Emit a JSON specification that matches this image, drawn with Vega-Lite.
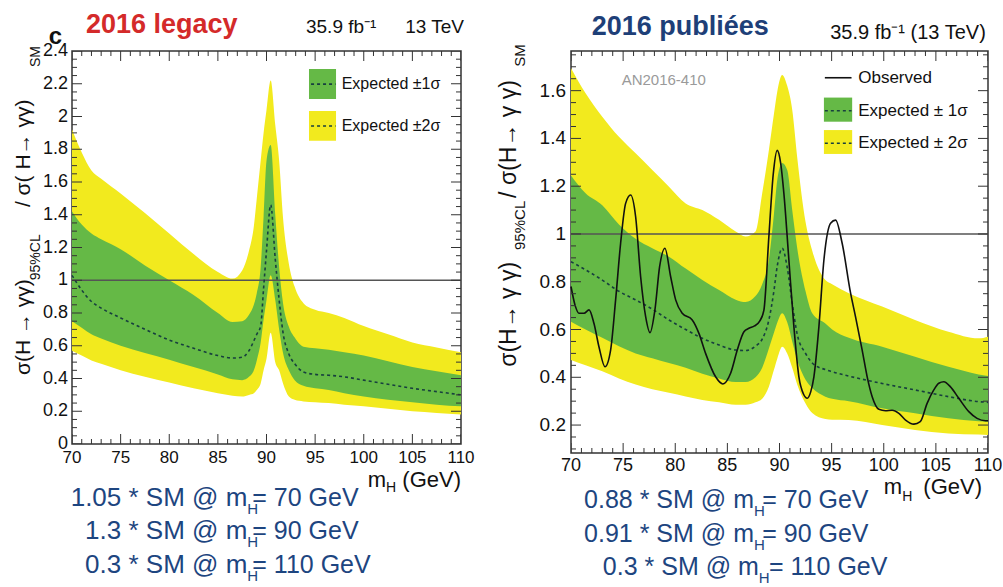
{
"$schema": "https://vega.github.io/schema/vega-lite/v6.json",
"background": "white",
"padding": {"left": 12, "top": 10, "right": 5, "bottom": 2},
"config": {"font": "Liberation Sans", "view": {"stroke": "#333", "strokeWidth": 1.5}},
"datasets": {
"legacy": [
{"m":70,"y2lo":0.57,"y1lo":0.75,"med":1.03,"y1hi":1.42,"y2hi":1.92},
{"m":71,"y2lo":0.54,"y1lo":0.71,"med":0.94,"y1hi":1.34,"y2hi":1.78},
{"m":72,"y2lo":0.51,"y1lo":0.67,"med":0.87,"y1hi":1.285,"y2hi":1.67},
{"m":73,"y2lo":0.49,"y1lo":0.645,"med":0.83,"y1hi":1.25,"y2hi":1.62},
{"m":75,"y2lo":0.45,"y1lo":0.60,"med":0.77,"y1hi":1.19,"y2hi":1.53},
{"m":77.5,"y2lo":0.41,"y1lo":0.555,"med":0.70,"y1hi":1.09,"y2hi":1.41},
{"m":80,"y2lo":0.375,"y1lo":0.515,"med":0.635,"y1hi":1.0,"y2hi":1.285},
{"m":82.5,"y2lo":0.34,"y1lo":0.47,"med":0.585,"y1hi":0.91,"y2hi":1.16},
{"m":85,"y2lo":0.31,"y1lo":0.425,"med":0.54,"y1hi":0.80,"y2hi":1.05},
{"m":86.5,"y2lo":0.295,"y1lo":0.395,"med":0.525,"y1hi":0.745,"y2hi":1.01},
{"m":87.5,"y2lo":0.29,"y1lo":0.39,"med":0.53,"y1hi":0.75,"y2hi":1.06},
{"m":88.2,"y2lo":0.30,"y1lo":0.41,"med":0.57,"y1hi":0.79,"y2hi":1.18},
{"m":88.7,"y2lo":0.31,"y1lo":0.45,"med":0.63,"y1hi":0.85,"y2hi":1.33},
{"m":89.0,"y2lo":0.33,"y1lo":0.51,"med":0.67,"y1hi":0.92,"y2hi":1.50},
{"m":89.4,"y2lo":0.37,"y1lo":0.62,"med":0.72,"y1hi":1.08,"y2hi":1.73},
{"m":89.7,"y2lo":0.45,"y1lo":0.76,"med":0.95,"y1hi":1.39,"y2hi":1.90},
{"m":90.0,"y2lo":0.52,"y1lo":0.88,"med":1.18,"y1hi":1.73,"y2hi":2.04},
{"m":90.43,"y2lo":0.68,"y1lo":1.03,"med":1.46,"y1hi":1.826,"y2hi":2.22},
{"m":90.9,"y2lo":0.50,"y1lo":0.88,"med":1.13,"y1hi":1.40,"y2hi":1.95},
{"m":91.3,"y2lo":0.45,"y1lo":0.70,"med":0.88,"y1hi":1.08,"y2hi":1.73},
{"m":91.7,"y2lo":0.37,"y1lo":0.555,"med":0.68,"y1hi":0.86,"y2hi":1.38},
{"m":92.3,"y2lo":0.29,"y1lo":0.45,"med":0.55,"y1hi":0.716,"y2hi":1.10},
{"m":92.9,"y2lo":0.27,"y1lo":0.39,"med":0.49,"y1hi":0.65,"y2hi":0.96},
{"m":93.8,"y2lo":0.26,"y1lo":0.355,"med":0.44,"y1hi":0.594,"y2hi":0.86},
{"m":95,"y2lo":0.255,"y1lo":0.34,"med":0.425,"y1hi":0.585,"y2hi":0.82},
{"m":96.4,"y2lo":0.25,"y1lo":0.33,"med":0.42,"y1hi":0.575,"y2hi":0.80},
{"m":98,"y2lo":0.24,"y1lo":0.31,"med":0.41,"y1hi":0.56,"y2hi":0.77},
{"m":100,"y2lo":0.23,"y1lo":0.29,"med":0.39,"y1hi":0.54,"y2hi":0.72},
{"m":102.5,"y2lo":0.215,"y1lo":0.27,"med":0.365,"y1hi":0.505,"y2hi":0.67},
{"m":105,"y2lo":0.20,"y1lo":0.255,"med":0.34,"y1hi":0.47,"y2hi":0.62},
{"m":107.5,"y2lo":0.19,"y1lo":0.24,"med":0.32,"y1hi":0.445,"y2hi":0.59},
{"m":110,"y2lo":0.18,"y1lo":0.23,"med":0.30,"y1hi":0.42,"y2hi":0.56}
],
"pub": [
{"m":70,"y2lo":0.472,"y1lo":0.633,"med":0.884,"y1hi":1.245,"y2hi":1.694},
{"m":71.4,"y2lo":0.45,"y1lo":0.60,"med":0.85,"y1hi":1.17,"y2hi":1.589},
{"m":73,"y2lo":0.425,"y1lo":0.565,"med":0.807,"y1hi":1.12,"y2hi":1.491},
{"m":74.6,"y2lo":0.395,"y1lo":0.53,"med":0.76,"y1hi":1.04,"y2hi":1.407},
{"m":76.2,"y2lo":0.37,"y1lo":0.50,"med":0.724,"y1hi":0.98,"y2hi":1.338},
{"m":77.8,"y2lo":0.35,"y1lo":0.48,"med":0.685,"y1hi":0.94,"y2hi":1.268},
{"m":79.4,"y2lo":0.335,"y1lo":0.46,"med":0.64,"y1hi":0.905,"y2hi":1.198},
{"m":81,"y2lo":0.32,"y1lo":0.44,"med":0.60,"y1hi":0.855,"y2hi":1.128},
{"m":82.6,"y2lo":0.305,"y1lo":0.415,"med":0.563,"y1hi":0.807,"y2hi":1.10},
{"m":84.2,"y2lo":0.295,"y1lo":0.395,"med":0.535,"y1hi":0.765,"y2hi":1.059},
{"m":85.8,"y2lo":0.285,"y1lo":0.38,"med":0.514,"y1hi":0.725,"y2hi":1.01},
{"m":86.75,"y2lo":0.285,"y1lo":0.38,"med":0.512,"y1hi":0.715,"y2hi":0.989},
{"m":87.7,"y2lo":0.295,"y1lo":0.40,"med":0.53,"y1hi":0.74,"y2hi":1.01},
{"m":88.34,"y2lo":0.31,"y1lo":0.44,"med":0.56,"y1hi":0.79,"y2hi":1.17},
{"m":88.98,"y2lo":0.36,"y1lo":0.52,"med":0.64,"y1hi":0.891,"y2hi":1.35},
{"m":89.46,"y2lo":0.43,"y1lo":0.585,"med":0.76,"y1hi":1.08,"y2hi":1.50},
{"m":89.8,"y2lo":0.48,"y1lo":0.63,"med":0.87,"y1hi":1.23,"y2hi":1.60},
{"m":90.26,"y2lo":0.528,"y1lo":0.668,"med":0.94,"y1hi":1.297,"y2hi":1.666},
{"m":90.74,"y2lo":0.50,"y1lo":0.63,"med":0.86,"y1hi":1.268,"y2hi":1.62},
{"m":91.22,"y2lo":0.44,"y1lo":0.55,"med":0.71,"y1hi":1.10,"y2hi":1.52},
{"m":91.7,"y2lo":0.37,"y1lo":0.472,"med":0.58,"y1hi":0.94,"y2hi":1.32},
{"m":92.5,"y2lo":0.29,"y1lo":0.39,"med":0.50,"y1hi":0.76,"y2hi":1.05},
{"m":93.14,"y2lo":0.25,"y1lo":0.355,"med":0.46,"y1hi":0.668,"y2hi":0.93},
{"m":94.4,"y2lo":0.225,"y1lo":0.319,"med":0.432,"y1hi":0.625,"y2hi":0.807},
{"m":95.05,"y2lo":0.222,"y1lo":0.31,"med":0.423,"y1hi":0.60,"y2hi":0.79},
{"m":96.65,"y2lo":0.221,"y1lo":0.30,"med":0.405,"y1hi":0.565,"y2hi":0.752},
{"m":99.85,"y2lo":0.20,"y1lo":0.27,"med":0.374,"y1hi":0.528,"y2hi":0.696},
{"m":103,"y2lo":0.179,"y1lo":0.249,"med":0.347,"y1hi":0.486,"y2hi":0.64},
{"m":106.2,"y2lo":0.165,"y1lo":0.228,"med":0.319,"y1hi":0.444,"y2hi":0.591},
{"m":109.1,"y2lo":0.16,"y1lo":0.216,"med":0.298,"y1hi":0.412,"y2hi":0.563},
{"m":110,"y2lo":0.158,"y1lo":0.214,"med":0.295,"y1hi":0.405,"y2hi":0.57}
],
"obs": [
{"m":70.0,"obs":0.78},{"m":70.4,"obs":0.70},{"m":70.77,"obs":0.668},{"m":71.25,"obs":0.668},{"m":71.73,"obs":0.682},
{"m":72.2,"obs":0.626},{"m":72.68,"obs":0.528},{"m":73.26,"obs":0.444},{"m":73.8,"obs":0.514},{"m":74.28,"obs":0.724},
{"m":74.76,"obs":0.961},{"m":75.24,"obs":1.128},{"m":75.72,"obs":1.163},{"m":76.2,"obs":1.072},{"m":76.68,"obs":0.821},
{"m":77.16,"obs":0.654},{"m":77.58,"obs":0.587},{"m":78.05,"obs":0.682},{"m":78.5,"obs":0.863},{"m":79.01,"obs":0.94},
{"m":79.56,"obs":0.821},{"m":80.04,"obs":0.724},{"m":80.67,"obs":0.668},{"m":81.63,"obs":0.64},{"m":82.27,"obs":0.584},
{"m":82.91,"obs":0.50},{"m":83.87,"obs":0.402},{"m":84.57,"obs":0.372},{"m":85.31,"obs":0.417},{"m":85.95,"obs":0.514},
{"m":86.59,"obs":0.591},{"m":87.07,"obs":0.605},{"m":87.6,"obs":0.615},{"m":88.1,"obs":0.635},{"m":88.5,"obs":0.68},
{"m":88.98,"obs":0.989},{"m":89.4,"obs":1.25},{"m":89.78,"obs":1.35},{"m":90.1,"obs":1.30},{"m":90.42,"obs":1.17},
{"m":90.9,"obs":0.891},{"m":91.38,"obs":0.612},{"m":91.86,"obs":0.402},{"m":92.3,"obs":0.33},{"m":92.66,"obs":0.312},
{"m":93.0,"obs":0.34},{"m":93.3,"obs":0.402},{"m":93.78,"obs":0.612},{"m":94.26,"obs":0.891},{"m":94.9,"obs":1.045},
{"m":95.38,"obs":1.058},{"m":96.01,"obs":0.961},{"m":96.82,"obs":0.752},{"m":97.29,"obs":0.654},{"m":97.93,"obs":0.514},
{"m":98.41,"obs":0.402},{"m":98.89,"obs":0.319},{"m":99.53,"obs":0.266},{"m":100.17,"obs":0.26},{"m":100.8,"obs":0.262},
{"m":101.45,"obs":0.249},{"m":102.09,"obs":0.221},{"m":102.89,"obs":0.204},{"m":103.5,"obs":0.214},{"m":104.16,"obs":0.291},
{"m":104.8,"obs":0.347},{"m":105.28,"obs":0.375},{"m":105.76,"obs":0.381},{"m":106.4,"obs":0.36},{"m":107.2,"obs":0.312},
{"m":108.16,"obs":0.256},{"m":108.95,"obs":0.228},{"m":109.76,"obs":0.218},{"m":110,"obs":0.218}
],
"xticks": [
{"v":70,"k":1},{"v":71,"k":0},{"v":72,"k":0},{"v":73,"k":0},{"v":74,"k":0},{"v":75,"k":1},{"v":76,"k":0},{"v":77,"k":0},{"v":78,"k":0},{"v":79,"k":0},
{"v":80,"k":1},{"v":81,"k":0},{"v":82,"k":0},{"v":83,"k":0},{"v":84,"k":0},{"v":85,"k":1},{"v":86,"k":0},{"v":87,"k":0},{"v":88,"k":0},{"v":89,"k":0},
{"v":90,"k":1},{"v":91,"k":0},{"v":92,"k":0},{"v":93,"k":0},{"v":94,"k":0},{"v":95,"k":1},{"v":96,"k":0},{"v":97,"k":0},{"v":98,"k":0},{"v":99,"k":0},
{"v":100,"k":1},{"v":101,"k":0},{"v":102,"k":0},{"v":103,"k":0},{"v":104,"k":0},{"v":105,"k":1},{"v":106,"k":0},{"v":107,"k":0},{"v":108,"k":0},{"v":109,"k":0},{"v":110,"k":1}
],
"yticksL": [
{"v":0,"k":1},{"v":0.05,"k":0},{"v":0.1,"k":0},{"v":0.15,"k":0},{"v":0.2,"k":1},{"v":0.25,"k":0},{"v":0.3,"k":0},{"v":0.35,"k":0},{"v":0.4,"k":1},{"v":0.45,"k":0},
{"v":0.5,"k":0},{"v":0.55,"k":0},{"v":0.6,"k":1},{"v":0.65,"k":0},{"v":0.7,"k":0},{"v":0.75,"k":0},{"v":0.8,"k":1},{"v":0.85,"k":0},{"v":0.9,"k":0},{"v":0.95,"k":0},
{"v":1,"k":1},{"v":1.05,"k":0},{"v":1.1,"k":0},{"v":1.15,"k":0},{"v":1.2,"k":1},{"v":1.25,"k":0},{"v":1.3,"k":0},{"v":1.35,"k":0},{"v":1.4,"k":1},{"v":1.45,"k":0},
{"v":1.5,"k":0},{"v":1.55,"k":0},{"v":1.6,"k":1},{"v":1.65,"k":0},{"v":1.7,"k":0},{"v":1.75,"k":0},{"v":1.8,"k":1},{"v":1.85,"k":0},{"v":1.9,"k":0},{"v":1.95,"k":0},
{"v":2,"k":1},{"v":2.05,"k":0},{"v":2.1,"k":0},{"v":2.15,"k":0},{"v":2.2,"k":1},{"v":2.25,"k":0},{"v":2.3,"k":0},{"v":2.35,"k":0},{"v":2.4,"k":1}
],
"yticksR": [
{"v":0.1,"k":0},{"v":0.15,"k":0},{"v":0.2,"k":1},{"v":0.25,"k":0},{"v":0.3,"k":0},{"v":0.35,"k":0},{"v":0.4,"k":1},{"v":0.45,"k":0},
{"v":0.5,"k":0},{"v":0.55,"k":0},{"v":0.6,"k":1},{"v":0.65,"k":0},{"v":0.7,"k":0},{"v":0.75,"k":0},{"v":0.8,"k":1},{"v":0.85,"k":0},{"v":0.9,"k":0},{"v":0.95,"k":0},
{"v":1,"k":1},{"v":1.05,"k":0},{"v":1.1,"k":0},{"v":1.15,"k":0},{"v":1.2,"k":1},{"v":1.25,"k":0},{"v":1.3,"k":0},{"v":1.35,"k":0},{"v":1.4,"k":1},{"v":1.45,"k":0},
{"v":1.5,"k":0},{"v":1.55,"k":0},{"v":1.6,"k":1},{"v":1.65,"k":0},{"v":1.7,"k":0},{"v":1.75,"k":0}
]
},
"spacing": 110,
"bounds": "flush",
"hconcat": [
{
"width": 389, "height": 393,
"layer": [
{"data": {"name": "legacy"}, "mark": {"type": "area", "color": "#f2ea1e", "interpolate": "monotone"},
 "encoding": {
  "x": {"field": "m", "type": "quantitative", "scale": {"domain": [70, 110], "nice": false, "zero": false}, "axis": null},
  "y": {"field": "y2lo", "type": "quantitative", "scale": {"domain": [0, 2.4], "nice": false, "zero": false}, "axis": null},
  "y2": {"field": "y2hi"}}},
{"data": {"name": "legacy"}, "mark": {"type": "area", "color": "#65b946", "interpolate": "monotone"},
 "encoding": {"x": {"field": "m", "type": "quantitative", "axis": null}, "y": {"field": "y1lo", "type": "quantitative", "axis": null}, "y2": {"field": "y1hi"}}},
{"data": {"values": [{}]}, "mark": {"type": "rule", "color": "#555", "strokeWidth": 1.5},
 "encoding": {"y": {"datum": 1, "type": "quantitative", "axis": null}}},
{"data": {"name": "legacy"}, "mark": {"type": "line", "color": "#173f3f", "strokeWidth": 1.6, "strokeDash": [3, 3], "interpolate": "monotone"},
 "encoding": {"x": {"field": "m", "type": "quantitative", "axis": null}, "y": {"field": "med", "type": "quantitative", "axis": null}}},
{"data": {"name": "xticks"}, "mark": {"type": "tick", "orient": "vertical", "clip": true, "color": "#333", "thickness": 1, "opacity": 1},
 "encoding": {"x": {"field": "v", "type": "quantitative", "axis": null}, "y": {"datum": 0, "type": "quantitative", "axis": null},
  "size": {"field": "k", "type": "quantitative", "scale": {"domain": [0, 1], "range": [10, 20]}, "legend": null}}},
{"data": {"name": "xticks"}, "mark": {"type": "tick", "orient": "vertical", "clip": true, "color": "#333", "thickness": 1, "opacity": 1},
 "encoding": {"x": {"field": "v", "type": "quantitative", "axis": null}, "y": {"datum": 2.4, "type": "quantitative", "axis": null},
  "size": {"field": "k", "type": "quantitative", "scale": {"domain": [0, 1], "range": [10, 20]}, "legend": null}}},
{"data": {"name": "yticksL"}, "mark": {"type": "tick", "orient": "horizontal", "clip": true, "color": "#333", "thickness": 1, "opacity": 1},
 "encoding": {"y": {"field": "v", "type": "quantitative", "axis": null}, "x": {"datum": 70, "type": "quantitative", "axis": null},
  "size": {"field": "k", "type": "quantitative", "scale": {"domain": [0, 1], "range": [10, 20]}, "legend": null}}},
{"data": {"name": "yticksL"}, "mark": {"type": "tick", "orient": "horizontal", "clip": true, "color": "#333", "thickness": 1, "opacity": 1},
 "encoding": {"y": {"field": "v", "type": "quantitative", "axis": null}, "x": {"datum": 110, "type": "quantitative", "axis": null},
  "size": {"field": "k", "type": "quantitative", "scale": {"domain": [0, 1], "range": [10, 20]}, "legend": null}}},
{"data": {"name": "xticks"}, "transform": [{"filter": "datum.k == 1"}],
 "mark": {"type": "text", "fontSize": 17, "align": "center", "baseline": "top", "dy": 6, "color": "#111"},
 "encoding": {"x": {"field": "v", "type": "quantitative", "axis": null}, "y": {"datum": 0, "type": "quantitative", "axis": null}, "text": {"field": "v", "type": "quantitative", "format": "~g"}}},
{"data": {"name": "yticksL"}, "transform": [{"filter": "datum.k == 1"}],
 "mark": {"type": "text", "fontSize": 18, "align": "right", "baseline": "middle", "dx": -4, "color": "#111"},
 "encoding": {"y": {"field": "v", "type": "quantitative", "axis": null}, "x": {"datum": 70, "type": "quantitative", "axis": null}, "text": {"field": "v", "type": "quantitative", "format": "~g"}}},
{"data": {"values": [{}]}, "mark": {"type": "rect", "color": "#65b946"},
 "encoding": {"x": {"datum": 94.37, "type": "quantitative", "axis": null}, "x2": {"datum": 97.15}, "y": {"datum": 2.29, "type": "quantitative", "axis": null}, "y2": {"datum": 2.107}}},
{"data": {"values": [{}]}, "mark": {"type": "rect", "color": "#f2ea1e"},
 "encoding": {"x": {"datum": 94.37, "type": "quantitative", "axis": null}, "x2": {"datum": 97.15}, "y": {"datum": 2.034, "type": "quantitative", "axis": null}, "y2": {"datum": 1.852}}},
{"data": {"values": [{}]}, "mark": {"type": "rule", "color": "#173f3f", "strokeWidth": 1.6, "strokeDash": [3, 3]},
 "encoding": {"x": {"datum": 94.58, "type": "quantitative", "axis": null}, "x2": {"datum": 97.1}, "y": {"datum": 2.198, "type": "quantitative", "axis": null}}},
{"data": {"values": [{}]}, "mark": {"type": "rule", "color": "#173f3f", "strokeWidth": 1.6, "strokeDash": [3, 3]},
 "encoding": {"x": {"datum": 94.58, "type": "quantitative", "axis": null}, "x2": {"datum": 97.1}, "y": {"datum": 1.942, "type": "quantitative", "axis": null}}},
{"data": {"values": [{}]}, "mark": {"type": "text", "text": "Expected ±1σ", "fontSize": 16, "align": "left", "baseline": "middle", "color": "#111"},
 "encoding": {"x": {"datum": 97.73, "type": "quantitative", "axis": null}, "y": {"datum": 2.198, "type": "quantitative", "axis": null}}},
{"data": {"values": [{}]}, "mark": {"type": "text", "text": "Expected ±2σ", "fontSize": 16, "align": "left", "baseline": "middle", "color": "#111"},
 "encoding": {"x": {"datum": 97.73, "type": "quantitative", "axis": null}, "y": {"datum": 1.942, "type": "quantitative", "axis": null}}},
{"data": {"values": [{}]}, "mark": {"type": "text", "text": "2016 legacy", "fontSize": 27, "fontWeight": "bold", "align": "left", "baseline": "alphabetic", "color": "#d42a2a"},
 "encoding": {"x": {"datum": 71.44, "type": "quantitative", "axis": null}, "y": {"datum": 2.508, "type": "quantitative", "axis": null}}},
{"data": {"values": [{}]}, "mark": {"type": "text", "text": "35.9 fb⁻¹", "fontSize": 19, "align": "left", "baseline": "alphabetic", "color": "#111"},
 "encoding": {"x": {"datum": 94.06, "type": "quantitative", "axis": null}, "y": {"datum": 2.508, "type": "quantitative", "axis": null}}},
{"data": {"values": [{}]}, "mark": {"type": "text", "text": "13 TeV", "fontSize": 19, "align": "right", "baseline": "alphabetic", "color": "#111"},
 "encoding": {"x": {"datum": 110.31, "type": "quantitative", "axis": null}, "y": {"datum": 2.508, "type": "quantitative", "axis": null}}},
{"data": {"values": [{}]}, "mark": {"type": "text", "text": "c", "fontSize": 24, "fontWeight": "bold", "align": "left", "baseline": "alphabetic", "color": "#111"},
 "encoding": {"x": {"datum": 67.6, "type": "quantitative", "axis": null}, "y": {"datum": 2.44, "type": "quantitative", "axis": null}}},
{"data": {"values": [{}]}, "mark": {"type": "text", "text": "σ(H → γγ)", "fontSize": 21, "angle": 270, "align": "left", "baseline": "middle", "color": "#111"},
 "encoding": {"x": {"datum": 65.06, "type": "quantitative", "axis": null}, "y": {"datum": 0.421, "type": "quantitative", "axis": null}}},
{"data": {"values": [{}]}, "mark": {"type": "text", "text": "95%CL", "fontSize": 14, "angle": 270, "align": "left", "baseline": "middle", "color": "#111"},
 "encoding": {"x": {"datum": 66.3, "type": "quantitative", "axis": null}, "y": {"datum": 1.0, "type": "quantitative", "axis": null}}},
{"data": {"values": [{}]}, "mark": {"type": "text", "text": "/ σ( H→ γγ)", "fontSize": 21, "angle": 270, "align": "left", "baseline": "middle", "color": "#111"},
 "encoding": {"x": {"datum": 65.06, "type": "quantitative", "axis": null}, "y": {"datum": 1.447, "type": "quantitative", "axis": null}}},
{"data": {"values": [{}]}, "mark": {"type": "text", "text": "SM", "fontSize": 14, "angle": 270, "align": "left", "baseline": "middle", "color": "#111"},
 "encoding": {"x": {"datum": 66.3, "type": "quantitative", "axis": null}, "y": {"datum": 2.302, "type": "quantitative", "axis": null}}},
{"data": {"values": [{}]}, "mark": {"type": "text", "text": "m", "fontSize": 22, "align": "right", "baseline": "middle", "color": "#111"},
 "encoding": {"x": {"datum": 102.29, "type": "quantitative", "axis": null}, "y": {"datum": -0.22, "type": "quantitative", "axis": null}}},
{"data": {"values": [{}]}, "mark": {"type": "text", "text": "H", "fontSize": 14, "align": "left", "baseline": "middle", "color": "#111"},
 "encoding": {"x": {"datum": 102.29, "type": "quantitative", "axis": null}, "y": {"datum": -0.269, "type": "quantitative", "axis": null}}},
{"data": {"values": [{}]}, "mark": {"type": "text", "text": "(GeV)", "fontSize": 22, "align": "right", "baseline": "middle", "color": "#111"},
 "encoding": {"x": {"datum": 110.0, "type": "quantitative", "axis": null}, "y": {"datum": -0.22, "type": "quantitative", "axis": null}}},
{"data": {"values": [{}]}, "mark": {"type": "text", "text": "1.05 * SM @ m", "fontSize": 26, "align": "right", "baseline": "middle", "color": "#1d4580"},
 "encoding": {"x": {"datum": 88.03, "type": "quantitative", "axis": null}, "y": {"datum": -0.328, "type": "quantitative", "axis": null}}},
{"data": {"values": [{}]}, "mark": {"type": "text", "text": "H", "fontSize": 15, "align": "left", "baseline": "middle", "color": "#1d4580"},
 "encoding": {"x": {"datum": 88.03, "type": "quantitative", "axis": null}, "y": {"datum": -0.395, "type": "quantitative", "axis": null}}},
{"data": {"values": [{}]}, "mark": {"type": "text", "text": "= 70 GeV", "fontSize": 25, "align": "left", "baseline": "middle", "color": "#1d4580"},
 "encoding": {"x": {"datum": 88.54, "type": "quantitative", "axis": null}, "y": {"datum": -0.328, "type": "quantitative", "axis": null}}},
{"data": {"values": [{}]}, "mark": {"type": "text", "text": "1.3 * SM @ m", "fontSize": 26, "align": "right", "baseline": "middle", "color": "#1d4580"},
 "encoding": {"x": {"datum": 88.03, "type": "quantitative", "axis": null}, "y": {"datum": -0.533, "type": "quantitative", "axis": null}}},
{"data": {"values": [{}]}, "mark": {"type": "text", "text": "H", "fontSize": 15, "align": "left", "baseline": "middle", "color": "#1d4580"},
 "encoding": {"x": {"datum": 88.03, "type": "quantitative", "axis": null}, "y": {"datum": -0.6, "type": "quantitative", "axis": null}}},
{"data": {"values": [{}]}, "mark": {"type": "text", "text": "= 90 GeV", "fontSize": 25, "align": "left", "baseline": "middle", "color": "#1d4580"},
 "encoding": {"x": {"datum": 88.54, "type": "quantitative", "axis": null}, "y": {"datum": -0.533, "type": "quantitative", "axis": null}}},
{"data": {"values": [{}]}, "mark": {"type": "text", "text": "0.3 * SM @ m", "fontSize": 26, "align": "right", "baseline": "middle", "color": "#1d4580"},
 "encoding": {"x": {"datum": 88.03, "type": "quantitative", "axis": null}, "y": {"datum": -0.737, "type": "quantitative", "axis": null}}},
{"data": {"values": [{}]}, "mark": {"type": "text", "text": "H", "fontSize": 15, "align": "left", "baseline": "middle", "color": "#1d4580"},
 "encoding": {"x": {"datum": 88.03, "type": "quantitative", "axis": null}, "y": {"datum": -0.804, "type": "quantitative", "axis": null}}},
{"data": {"values": [{}]}, "mark": {"type": "text", "text": "= 110 GeV", "fontSize": 25, "align": "left", "baseline": "middle", "color": "#1d4580"},
 "encoding": {"x": {"datum": 88.54, "type": "quantitative", "axis": null}, "y": {"datum": -0.737, "type": "quantitative", "axis": null}}}
]
},
{
"width": 417, "height": 402,
"layer": [
{"data": {"name": "pub"}, "mark": {"type": "area", "color": "#f2ea1e", "interpolate": "monotone"},
 "encoding": {
  "x": {"field": "m", "type": "quantitative", "scale": {"domain": [70, 110], "nice": false, "zero": false}, "axis": null},
  "y": {"field": "y2lo", "type": "quantitative", "scale": {"domain": [0.083, 1.766], "nice": false, "zero": false}, "axis": null},
  "y2": {"field": "y2hi"}}},
{"data": {"name": "pub"}, "mark": {"type": "area", "color": "#65b946", "interpolate": "monotone"},
 "encoding": {"x": {"field": "m", "type": "quantitative", "axis": null}, "y": {"field": "y1lo", "type": "quantitative", "axis": null}, "y2": {"field": "y1hi"}}},
{"data": {"values": [{}]}, "mark": {"type": "rule", "color": "#555", "strokeWidth": 1.5},
 "encoding": {"y": {"datum": 1, "type": "quantitative", "axis": null}}},
{"data": {"name": "pub"}, "mark": {"type": "line", "color": "#173f3f", "strokeWidth": 1.6, "strokeDash": [3, 3], "interpolate": "monotone"},
 "encoding": {"x": {"field": "m", "type": "quantitative", "axis": null}, "y": {"field": "med", "type": "quantitative", "axis": null}}},
{"data": {"name": "obs"}, "mark": {"type": "line", "color": "#111", "strokeWidth": 1.6, "interpolate": "monotone"},
 "encoding": {"x": {"field": "m", "type": "quantitative", "axis": null}, "y": {"field": "obs", "type": "quantitative", "axis": null}}},
{"data": {"name": "xticks"}, "mark": {"type": "tick", "orient": "vertical", "clip": true, "color": "#333", "thickness": 1, "opacity": 1},
 "encoding": {"x": {"field": "v", "type": "quantitative", "axis": null}, "y": {"datum": 0.083, "type": "quantitative", "axis": null},
  "size": {"field": "k", "type": "quantitative", "scale": {"domain": [0, 1], "range": [12, 24]}, "legend": null}}},
{"data": {"name": "xticks"}, "mark": {"type": "tick", "orient": "vertical", "clip": true, "color": "#333", "thickness": 1, "opacity": 1},
 "encoding": {"x": {"field": "v", "type": "quantitative", "axis": null}, "y": {"datum": 1.766, "type": "quantitative", "axis": null},
  "size": {"field": "k", "type": "quantitative", "scale": {"domain": [0, 1], "range": [12, 24]}, "legend": null}}},
{"data": {"name": "yticksR"}, "mark": {"type": "tick", "orient": "horizontal", "clip": true, "color": "#333", "thickness": 1, "opacity": 1},
 "encoding": {"y": {"field": "v", "type": "quantitative", "axis": null}, "x": {"datum": 70, "type": "quantitative", "axis": null},
  "size": {"field": "k", "type": "quantitative", "scale": {"domain": [0, 1], "range": [12, 24]}, "legend": null}}},
{"data": {"name": "yticksR"}, "mark": {"type": "tick", "orient": "horizontal", "clip": true, "color": "#333", "thickness": 1, "opacity": 1},
 "encoding": {"y": {"field": "v", "type": "quantitative", "axis": null}, "x": {"datum": 110, "type": "quantitative", "axis": null},
  "size": {"field": "k", "type": "quantitative", "scale": {"domain": [0, 1], "range": [12, 24]}, "legend": null}}},
{"data": {"name": "xticks"}, "transform": [{"filter": "datum.k == 1"}],
 "mark": {"type": "text", "fontSize": 18, "align": "center", "baseline": "top", "dy": 4, "color": "#111"},
 "encoding": {"x": {"field": "v", "type": "quantitative", "axis": null}, "y": {"datum": 0.083, "type": "quantitative", "axis": null}, "text": {"field": "v", "type": "quantitative", "format": "~g"}}},
{"data": {"name": "yticksR"}, "transform": [{"filter": "datum.k == 1"}],
 "mark": {"type": "text", "fontSize": 19, "align": "right", "baseline": "middle", "dx": -5, "color": "#111"},
 "encoding": {"y": {"field": "v", "type": "quantitative", "axis": null}, "x": {"datum": 70, "type": "quantitative", "axis": null}, "text": {"field": "v", "type": "quantitative", "format": "~g"}}},
{"data": {"values": [{}]}, "mark": {"type": "rule", "color": "#111", "strokeWidth": 1.6},
 "encoding": {"x": {"datum": 94.35, "type": "quantitative", "axis": null}, "x2": {"datum": 96.91}, "y": {"datum": 1.654, "type": "quantitative", "axis": null}}},
{"data": {"values": [{}]}, "mark": {"type": "rect", "color": "#65b946"},
 "encoding": {"x": {"datum": 94.26, "type": "quantitative", "axis": null}, "x2": {"datum": 96.97}, "y": {"datum": 1.571, "type": "quantitative", "axis": null}, "y2": {"datum": 1.47}}},
{"data": {"values": [{}]}, "mark": {"type": "rect", "color": "#f2ea1e"},
 "encoding": {"x": {"datum": 94.26, "type": "quantitative", "axis": null}, "x2": {"datum": 96.97}, "y": {"datum": 1.435, "type": "quantitative", "axis": null}, "y2": {"datum": 1.335}}},
{"data": {"values": [{}]}, "mark": {"type": "rule", "color": "#173f3f", "strokeWidth": 1.6, "strokeDash": [3, 3]},
 "encoding": {"x": {"datum": 94.35, "type": "quantitative", "axis": null}, "x2": {"datum": 96.91}, "y": {"datum": 1.516, "type": "quantitative", "axis": null}}},
{"data": {"values": [{}]}, "mark": {"type": "rule", "color": "#173f3f", "strokeWidth": 1.6, "strokeDash": [3, 3]},
 "encoding": {"x": {"datum": 94.35, "type": "quantitative", "axis": null}, "x2": {"datum": 96.91}, "y": {"datum": 1.38, "type": "quantitative", "axis": null}}},
{"data": {"values": [{}]}, "mark": {"type": "text", "text": "Observed", "fontSize": 17, "align": "left", "baseline": "middle", "color": "#111"},
 "encoding": {"x": {"datum": 97.55, "type": "quantitative", "axis": null}, "y": {"datum": 1.654, "type": "quantitative", "axis": null}}},
{"data": {"values": [{}]}, "mark": {"type": "text", "text": "Expected ± 1σ", "fontSize": 17, "align": "left", "baseline": "middle", "color": "#111"},
 "encoding": {"x": {"datum": 97.55, "type": "quantitative", "axis": null}, "y": {"datum": 1.516, "type": "quantitative", "axis": null}}},
{"data": {"values": [{}]}, "mark": {"type": "text", "text": "Expected ± 2σ", "fontSize": 17, "align": "left", "baseline": "middle", "color": "#111"},
 "encoding": {"x": {"datum": 97.55, "type": "quantitative", "axis": null}, "y": {"datum": 1.38, "type": "quantitative", "axis": null}}},
{"data": {"values": [{}]}, "mark": {"type": "text", "text": "AN2016-410", "fontSize": 15, "align": "left", "baseline": "middle", "color": "#9a9a9a"},
 "encoding": {"x": {"datum": 74.86, "type": "quantitative", "axis": null}, "y": {"datum": 1.645, "type": "quantitative", "axis": null}}},
{"data": {"values": [{}]}, "mark": {"type": "text", "text": "2016 publiées", "fontSize": 27, "fontWeight": "bold", "align": "left", "baseline": "alphabetic", "color": "#1e3f78"},
 "encoding": {"x": {"datum": 71.98, "type": "quantitative", "axis": null}, "y": {"datum": 1.833, "type": "quantitative", "axis": null}}},
{"data": {"values": [{}]}, "mark": {"type": "text", "text": "35.9 fb⁻¹ (13 TeV)", "fontSize": 20, "align": "right", "baseline": "alphabetic", "color": "#111"},
 "encoding": {"x": {"datum": 109.79, "type": "quantitative", "axis": null}, "y": {"datum": 1.8165, "type": "quantitative", "axis": null}}},
{"data": {"values": [{}]}, "mark": {"type": "text", "text": "σ(H→ γ γ)", "fontSize": 23, "angle": 270, "align": "left", "baseline": "middle", "color": "#111"},
 "encoding": {"x": {"datum": 64.06, "type": "quantitative", "axis": null}, "y": {"datum": 0.444, "type": "quantitative", "axis": null}}},
{"data": {"values": [{}]}, "mark": {"type": "text", "text": "95%CL", "fontSize": 15, "angle": 270, "align": "left", "baseline": "middle", "color": "#111"},
 "encoding": {"x": {"datum": 65.11, "type": "quantitative", "axis": null}, "y": {"datum": 0.933, "type": "quantitative", "axis": null}}},
{"data": {"values": [{}]}, "mark": {"type": "text", "text": "/ σ(H→ γ γ)", "fontSize": 23, "angle": 270, "align": "left", "baseline": "middle", "color": "#111"},
 "encoding": {"x": {"datum": 64.06, "type": "quantitative", "axis": null}, "y": {"datum": 1.151, "type": "quantitative", "axis": null}}},
{"data": {"values": [{}]}, "mark": {"type": "text", "text": "SM", "fontSize": 15, "angle": 270, "align": "left", "baseline": "middle", "color": "#111"},
 "encoding": {"x": {"datum": 65.11, "type": "quantitative", "axis": null}, "y": {"datum": 1.70, "type": "quantitative", "axis": null}}},
{"data": {"values": [{}]}, "mark": {"type": "text", "text": "m", "fontSize": 22, "align": "right", "baseline": "middle", "color": "#111"},
 "encoding": {"x": {"datum": 101.77, "type": "quantitative", "axis": null}, "y": {"datum": -0.06, "type": "quantitative", "axis": null}}},
{"data": {"values": [{}]}, "mark": {"type": "text", "text": "H", "fontSize": 14, "align": "left", "baseline": "middle", "color": "#111"},
 "encoding": {"x": {"datum": 101.77, "type": "quantitative", "axis": null}, "y": {"datum": -0.1, "type": "quantitative", "axis": null}}},
{"data": {"values": [{}]}, "mark": {"type": "text", "text": "(GeV)", "fontSize": 22, "align": "right", "baseline": "middle", "color": "#111"},
 "encoding": {"x": {"datum": 109.43, "type": "quantitative", "axis": null}, "y": {"datum": -0.06, "type": "quantitative", "axis": null}}},
{"data": {"values": [{}]}, "mark": {"type": "text", "text": "0.88 * SM @ m", "fontSize": 25, "align": "right", "baseline": "middle", "color": "#1d4580"},
 "encoding": {"x": {"datum": 87.55, "type": "quantitative", "axis": null}, "y": {"datum": -0.115, "type": "quantitative", "axis": null}}},
{"data": {"values": [{}]}, "mark": {"type": "text", "text": "H", "fontSize": 15, "align": "left", "baseline": "middle", "color": "#1d4580"},
 "encoding": {"x": {"datum": 87.55, "type": "quantitative", "axis": null}, "y": {"datum": -0.161, "type": "quantitative", "axis": null}}},
{"data": {"values": [{}]}, "mark": {"type": "text", "text": "= 70 GeV", "fontSize": 25, "align": "left", "baseline": "middle", "color": "#1d4580"},
 "encoding": {"x": {"datum": 88.34, "type": "quantitative", "axis": null}, "y": {"datum": -0.115, "type": "quantitative", "axis": null}}},
{"data": {"values": [{}]}, "mark": {"type": "text", "text": "0.91 * SM @ m", "fontSize": 25, "align": "right", "baseline": "middle", "color": "#1d4580"},
 "encoding": {"x": {"datum": 87.55, "type": "quantitative", "axis": null}, "y": {"datum": -0.255, "type": "quantitative", "axis": null}}},
{"data": {"values": [{}]}, "mark": {"type": "text", "text": "H", "fontSize": 15, "align": "left", "baseline": "middle", "color": "#1d4580"},
 "encoding": {"x": {"datum": 87.55, "type": "quantitative", "axis": null}, "y": {"datum": -0.301, "type": "quantitative", "axis": null}}},
{"data": {"values": [{}]}, "mark": {"type": "text", "text": "= 90 GeV", "fontSize": 25, "align": "left", "baseline": "middle", "color": "#1d4580"},
 "encoding": {"x": {"datum": 88.34, "type": "quantitative", "axis": null}, "y": {"datum": -0.255, "type": "quantitative", "axis": null}}},
{"data": {"values": [{}]}, "mark": {"type": "text", "text": "0.3 * SM @ m", "fontSize": 25, "align": "right", "baseline": "middle", "color": "#1d4580"},
 "encoding": {"x": {"datum": 88.02, "type": "quantitative", "axis": null}, "y": {"datum": -0.395, "type": "quantitative", "axis": null}}},
{"data": {"values": [{}]}, "mark": {"type": "text", "text": "H", "fontSize": 15, "align": "left", "baseline": "middle", "color": "#1d4580"},
 "encoding": {"x": {"datum": 88.02, "type": "quantitative", "axis": null}, "y": {"datum": -0.441, "type": "quantitative", "axis": null}}},
{"data": {"values": [{}]}, "mark": {"type": "text", "text": "= 110 GeV", "fontSize": 25, "align": "left", "baseline": "middle", "color": "#1d4580"},
 "encoding": {"x": {"datum": 89.0, "type": "quantitative", "axis": null}, "y": {"datum": -0.395, "type": "quantitative", "axis": null}}}
]
}
]
}
